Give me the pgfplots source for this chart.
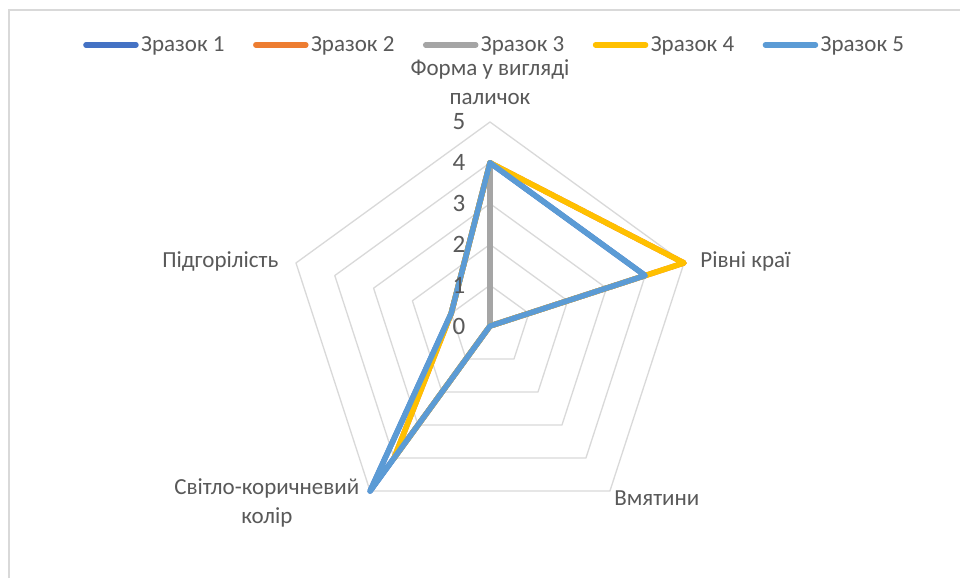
\documentclass[border=0pt]{standalone}
\usepackage{pgfplots}
\pgfplotsset{compat=1.18}
\usepackage{fontspec}
\setmainfont{Carlito}
\definecolor{s1}{RGB}{68,114,196}
\definecolor{s2}{RGB}{237,125,49}
\definecolor{s3}{RGB}{165,165,165}
\definecolor{s4}{RGB}{255,192,0}
\definecolor{s5}{RGB}{91,155,213}
\definecolor{gridc}{RGB}{217,217,217}
\definecolor{txt}{RGB}{89,89,89}
\begin{document}
\begin{tikzpicture}
\path[use as bounding box] (0,0) rectangle (960pt,578pt);
\fill[white] (0,0) rectangle (960pt,578pt);
\draw[gridc, line width=1.2pt] (9pt,0pt) -- (9pt,568pt) -- (960pt,568pt);
\begin{axis}[
  at={(490pt,252pt)}, anchor=center,
  x=40.8pt, y=40.8pt,
  xmin=-5, xmax=5, ymin=-5, ymax=5,
  hide axis, clip=false,
  data cs=polar,
  every axis plot/.append style={line join=round, line cap=round},
  legend columns=5,
  legend image code/.code={\draw[#1, line width=5.5pt, line cap=round] (0pt,0pt) -- (50pt,0pt);},
  legend style={draw=none, fill=none, at={(axis cs:0.12,6.89)}, anchor=center,
    font=\fontsize{23}{27}\selectfont, text=txt, inner sep=0pt,
    /tikz/every even column/.append style={column sep=26pt},
    nodes={inner sep=2.5pt}},
]
% grid pentagons
\foreach \r in {1,2,3,4,5}{
  \edef\tmp{\noexpand\addplot[gridc, line width=1.3pt, forget plot] coordinates {(90,\r) (18,\r) (-54,\r) (-126,\r) (162,\r) (90,\r)};}
  \tmp
}
\addplot[s1, line width=5.5pt] coordinates {(90,4) (18,4) (-54,0) (-126,5) (162,1) (90,4)};
\addlegendentry{Зразок 1}
\addplot[s2, line width=5.5pt] coordinates {(90,4) (18,5) (-54,0) (-126,4) (162,1) (90,4)};
\addlegendentry{Зразок 2}
\addplot[s3, line width=5.5pt] coordinates {(90,4) (18,0) (-54,0) (-126,0) (162,0) (90,4)};
\addlegendentry{Зразок 3}
\addplot[s4, line width=5.5pt] coordinates {(90,4) (18,5) (-54,0) (-126,4) (162,1) (90,4)};
\addlegendentry{Зразок 4}
\addplot[s5, line width=5.5pt] coordinates {(90,4) (18,4) (-54,0) (-126,5) (162,1) (90,4)};
\addlegendentry{Зразок 5}
% tick labels
\foreach \k in {0,...,5}{
  \edef\tmp{\noexpand\node[txt, font=\noexpand\fontsize{25}{28}\noexpand\selectfont] at (axis cs:-0.76,\k) {\k};}
  \tmp
}
% category labels
\node[txt, align=center, font=\fontsize{23}{29}\selectfont] at (axis cs:0,5.97) {Форма у вигляді\\паличок};
\node[txt, anchor=west, font=\fontsize{23}{29}\selectfont] at (axis cs:5.07,1.57) {Рівні краї};
\node[txt, font=\fontsize{23}{29}\selectfont] at (axis cs:4.09,-4.22) {Вмятини};
\node[txt, align=center, font=\fontsize{23}{29}\selectfont] at (axis cs:-5.47,-4.34) {Світло-коричневий\\колір};
\node[txt, anchor=east, font=\fontsize{23}{29}\selectfont] at (axis cs:-5.1,1.57) {Підгорілість};
\end{axis}
\end{tikzpicture}
\end{document}
